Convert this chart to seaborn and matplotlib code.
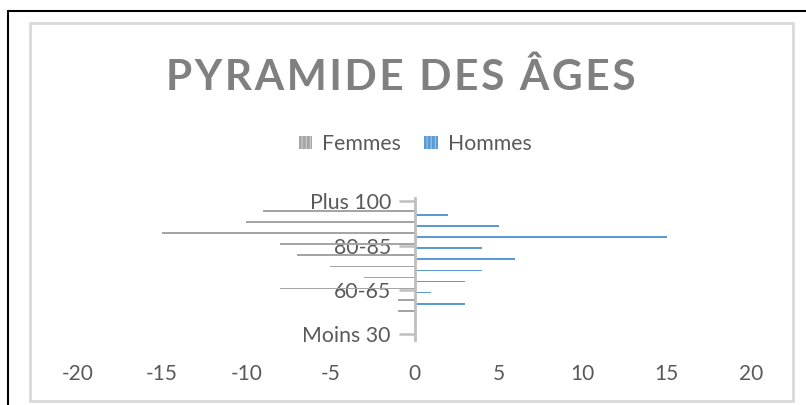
import numpy as np
import pandas as pd
import matplotlib
matplotlib.use("Agg")
import matplotlib.pyplot as plt
import seaborn as sns
from matplotlib.patches import Rectangle, Patch
from matplotlib.lines import Line2D

# ---- data ----
categories = ["Moins 30", "30-40", "40-50", "50-60", "60-65", "65-70", "70-75",
              "75-80", "80-85", "85-90", "90-95", "95-100", "Plus 100"]
femmes = [0, 0, -1, -1, -8, -3, -5, -7, -8, -15, -10, -9, 0]
hommes = [0, 0, 0, 3, 1, 3, 4, 6, 4, 15, 5, 2, 0]
series = ["Femmes", "Hommes"]
colors = {"Femmes": "#A5A5A5", "Hommes": "#5B9BD5"}
stripe = {"Femmes": "#CFCFCF", "Hommes": "#9DC3E6"}
xticks = [-20, -15, -10, -5, 0, 5, 10, 15, 20]
title = "PYRAMIDE DES ÂGES"

sns.set_theme(style="white")
plt.rcParams["font.family"] = ["Lato", "DejaVu Sans"]
plt.rcParams["hatch.linewidth"] = 0.8

W, H = 806, 405
fig = plt.figure(figsize=(W / 100, H / 100), dpi=100)
ax = fig.add_axes([78 / W, (H - 340) / H, 673 / W, (340 - 197.7) / H])

pos = list(range(len(categories)))
df = pd.DataFrame({
    "pos": pos + pos,
    "valeur": femmes + hommes,
    "sexe": ["Femmes"] * len(categories) + ["Hommes"] * len(categories),
})

sns.barplot(data=df, x="valeur", y="pos", hue="sexe", orient="h",
            native_scale=True, palette=colors, hue_order=series,
            width=0.7, dodge=True, errorbar=None, saturation=1,
            legend=False, ax=ax, linewidth=0)

# thin bars, Femmes slightly above Hommes
thick = 0.15
gray_rgb = matplotlib.colors.to_rgb(colors["Femmes"])
for p in ax.patches:
    c = p.get_y() + p.get_height() / 2
    cat = round(c)
    fc = p.get_facecolor()[:3]
    is_f = np.allclose(fc, gray_rgb, atol=0.02)
    off = 0.12 if is_f else -0.24
    p.set_y(cat + off - thick / 2)
    p.set_height(thick)

ax.set_xlim(-20, 20)
ax.set_ylim(-0.5, 12.3)
ax.set_xlabel("")
ax.set_ylabel("")

for s in ["top", "right", "bottom"]:
    ax.spines[s].set_visible(False)
ax.spines["left"].set_position(("data", 0))
ax.spines["left"].set_color("#BFBFBF")
ax.spines["left"].set_linewidth(2.0)

ax.set_yticks([0, 4, 8, 12])
ax.set_yticklabels([categories[i] for i in (0, 4, 8, 12)])
ax.tick_params(axis="y", length=11.5, width=1.8, color="#BFBFBF", pad=5.5,
               labelsize=15.3, labelcolor="#595959", left=True)
ax.set_xticks(xticks)
ax.set_xticklabels([str(v) for v in xticks])
ax.tick_params(axis="x", length=0, pad=17, labelsize=15, labelcolor="#595959")
ax.grid(False)
ax.set_facecolor("none")

# title (slightly letter-spaced)
fig.text(401 / W, 1 - 90 / H, "\u200a".join(title), ha="center", va="baseline",
         fontsize=30.5, fontweight="bold", color="#808080",
         family=["Lato", "DejaVu Sans"])

# legend
handles = [Patch(facecolor=colors[s], edgecolor=stripe[s], hatch="||||", linewidth=0)
           for s in series]
fig.legend(handles, series, loc="center", bbox_to_anchor=(415 / W, 1 - 144 / H),
           ncol=2, frameon=False, fontsize=15.3, labelcolor="#595959",
           handlelength=0.65, handleheight=0.5, handletextpad=0.45,
           columnspacing=1.1, borderaxespad=0)

# frames
fig.add_artist(Rectangle((30 / W, 1 - 401 / H), (793 - 30) / W, (401 - 23) / H,
                         transform=fig.transFigure, fill=False,
                         edgecolor="#D9D9D9", linewidth=2))
fig.add_artist(Line2D([8 / W, 1], [1 - 11 / H, 1 - 11 / H],
                      transform=fig.transFigure, color="black", linewidth=1.5))
fig.add_artist(Line2D([8 / W, 8 / W], [0, 1 - 11 / H],
                      transform=fig.transFigure, color="black", linewidth=1.5))

fig.savefig("out.png", dpi=100)
